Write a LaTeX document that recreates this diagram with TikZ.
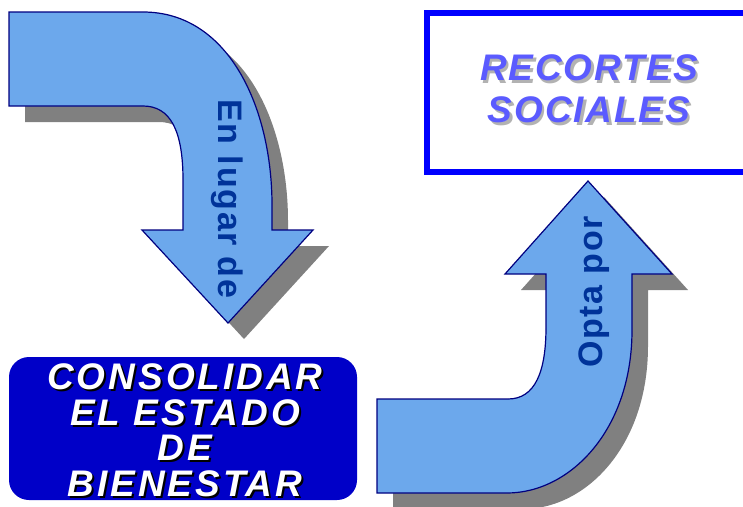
\documentclass[tikz,border=0pt]{standalone}
\usepackage{fontspec}
\setmainfont{Liberation Sans}
\usetikzlibrary{positioning}

\definecolor{arrowfill}{HTML}{6CA8EC}
\definecolor{arrowline}{HTML}{000080}
\definecolor{arrowtext}{HTML}{003399}
\definecolor{goalfill}{HTML}{0000C8}
\definecolor{cutline}{HTML}{0000FF}
\definecolor{cuttext}{HTML}{5B5BFF}

\begin{document}
\begin{tikzpicture}[x=1pt,y=-1pt,
bigarrow/.style={preaction={fill=black!50, transform canvas={shift={(16,16)}}}, fill=arrowfill, draw=arrowline, line width=1.2pt, line join=miter},
arrowlabel/.style={font=\fontsize{34}{40}\selectfont\bfseries\addfontfeature{LetterSpace=5}, text=arrowtext, inner sep=0pt, anchor=base},
goalbox/.style={rectangle, rounded corners=20pt, fill=goalfill, minimum width=348pt, minimum height=143pt, inner sep=0pt},
goaltext/.style={font=\fontsize{37}{35.5}\selectfont\bfseries\itshape\addfontfeature{LetterSpace=8}, align=center, inner sep=0pt, anchor=north},
cutbox/.style={rectangle, draw=cutline, line width=6pt, fill=white, minimum width=333pt, minimum height=159pt, inner sep=0pt},
cuttext/.style={font=\fontsize{37}{42.5}\selectfont\bfseries\itshape\addfontfeature{LetterSpace=5}, align=center, inner sep=0pt, anchor=north},
]
\useasboundingbox (0,0) rectangle (743,506);
\clip (0,0) rectangle (743,506);
%%%
%% Arrows
\draw[bigarrow] (9,12) -- (143,12) .. controls (230,12) and (272,110) .. (272,205)
  -- (272,230) -- (313,230) -- (228,323) -- (142,230) -- (183,230) -- (183,180)
  .. controls (183,130) and (170,106) .. (143,106) -- (9,106) -- cycle;
\draw[bigarrow] (377,399) -- (508,399) .. controls (535,399) and (546,372) .. (546,327)
  -- (546,274) -- (505,274) -- (588,181) -- (672,274) -- (632,274) -- (632,330)
  .. controls (632,430) and (570,493) .. (507,493) -- (377,493) -- cycle;
\node[arrowlabel, rotate=-90] (enlugar) at (218,199) {En lugar de};
\node[arrowlabel, rotate=90] (optapor) at (602,292) {Opta por};
%%%
%% Boxes
\node[goalbox] (estado) at (183,428.5) {};
\node[goaltext, text=black] at ([xshift=4pt,yshift=-9pt]estado.north) {CONSOLIDAR\\EL ESTADO\\DE\\BIENESTAR};
\node[goaltext, text=white] (estadotext) at ([xshift=2pt,yshift=-7pt]estado.north) {CONSOLIDAR\\EL ESTADO\\DE\\BIENESTAR};
\node[cutbox] (recortes) at (593.5,92.5) {};
\node[cuttext, text=black!30] at ([xshift=-2pt,yshift=-47pt]recortes.north) {RECORTES\\SOCIALES};
\node[cuttext, text=cuttext] (recortestext) at ([xshift=-4.5pt,yshift=-44pt]recortes.north) {RECORTES\\SOCIALES};
\end{tikzpicture}
\end{document}
